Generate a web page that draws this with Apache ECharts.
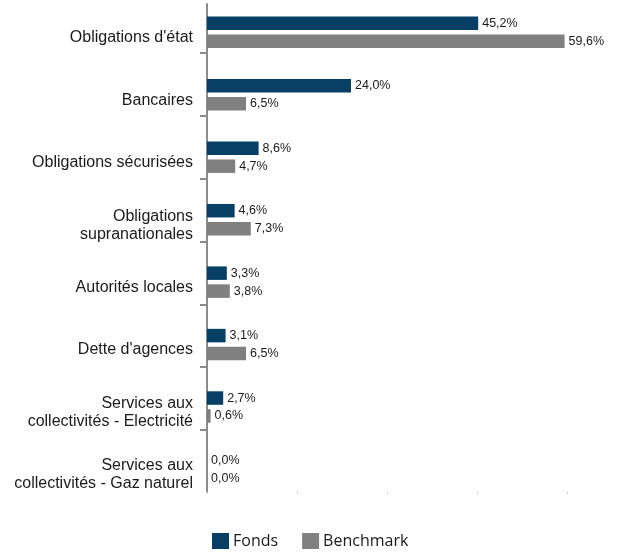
<!DOCTYPE html>
<html>
<head>
<meta charset="utf-8">
<script src="https://cdn.jsdelivr.net/npm/echarts@6/dist/echarts.min.js"></script>
<style>html,body{margin:0;padding:0;background:#fff}#c{width:620px;height:553px}</style>
</head>
<body>
<div id="c"></div>
<script>
const categories = [
  "Obligations d'état",
  "Bancaires",
  "Obligations sécurisées",
  "Obligations\nsupranationales",
  "Autorités locales",
  "Dette d'agences",
  "Services aux\ncollectivités - Electricité",
  "Services aux\ncollectivités - Gaz naturel"
];
const fonds = [45.2, 24.0, 8.6, 4.6, 3.3, 3.1, 2.7, 0.0];
const benchmark = [59.6, 6.5, 4.7, 7.3, 3.8, 6.5, 0.6, 0.0];
const seriesNames = ["Fonds", "Benchmark"];
const xMax = 60;
const xInterval = 15;

const FONT = "'Liberation Sans', Arial, sans-serif";
const chart = echarts.init(document.getElementById('c'), null, {renderer: 'canvas'});
const fmt = p => p.value.toFixed(1).replace('.', ',') + '%';
const hiddenX = (gi) => ({
  type: 'value', gridIndex: gi, min: 0, max: xMax, interval: xInterval,
  axisLine: {show: false}, axisTick: {show: false}, axisLabel: {show: false}, splitLine: {show: false}
});
const tickCats = categories.map((c, i) => 't' + i).concat(['end']);
const catLabelFmt = v => v.split('\n').map(l => '{f|' + l + '}').join('\n');
const labelTok = {fontSize: 16, lineHeight: 18, color: '#1a1a1a', fontFamily: FONT, align: 'right'};

chart.setOption({
  animation: false,
  textStyle: {fontFamily: FONT},
  grid: [
    {left: 207, width: 360, top: 1.1, height: 499.6, outerBoundsMode: 'none', containLabel: false},
    {left: 207, width: 360, top: 4, height: 487.7, outerBoundsMode: 'none', containLabel: false},
    {left: 207, width: 360, top: -10.2, height: 566.1, outerBoundsMode: 'none', containLabel: false}
  ],
  legend: {
    left: 212, top: 533, padding: 0,
    itemWidth: 17, itemHeight: 16, itemGap: 24,
    icon: 'rect',
    textStyle: {fontFamily: "'Open Sans'", fontSize: 16, color: '#1a1a1a', padding: [0, 0, 0, -1]},
    data: seriesNames
  },
  xAxis: [
    hiddenX(0),
    {
      type: 'value', gridIndex: 1, min: 0, max: xMax, interval: xInterval,
      axisLine: {show: false},
      axisTick: {show: true, length: 2, lineStyle: {color: '#c4c4c4', width: 1}},
      axisLabel: {show: false}, splitLine: {show: false}
    },
    hiddenX(2)
  ],
  yAxis: [
    {
      type: 'category', gridIndex: 0, inverse: true, data: categories,
      axisLine: {show: false}, axisTick: {show: false},
      axisLabel: {
        show: true, margin: 14, fontSize: 16, lineHeight: 18, color: '#1a1a1a',
        align: 'right', fontFamily: FONT,
        formatter: catLabelFmt,
        rich: {
          f: Object.assign({padding: [11, 0, 0, 0]}, labelTok)
        }
      }
    },
    {
      type: 'category', gridIndex: 1, inverse: true, data: categories,
      axisLine: {show: true, lineStyle: {color: '#8c8c8c', width: 2}},
      axisTick: {show: false}, axisLabel: {show: false}
    },
    {
      type: 'category', gridIndex: 2, inverse: true, data: tickCats,
      axisLine: {show: false},
      axisTick: {show: true, length: 7, interval: (i) => i !== 0 && i !== 8, lineStyle: {color: '#8c8c8c', width: 2}},
      axisLabel: {show: false}
    }
  ],
  series: [
    {
      name: seriesNames[0], type: 'bar', xAxisIndex: 0, yAxisIndex: 0,
      data: fonds, barWidth: 13.5, barGap: '33%',
      itemStyle: {color: '#073F65'},
      label: {show: true, position: 'right', distance: 4, formatter: fmt, fontSize: 12.5, color: '#1a1a1a', fontFamily: FONT}
    },
    {
      name: seriesNames[1], type: 'bar', xAxisIndex: 0, yAxisIndex: 0,
      data: benchmark, barWidth: 13.5, barGap: '33%',
      itemStyle: {color: '#808080'},
      label: {show: true, position: 'right', distance: 4, formatter: fmt, fontSize: 12.5, color: '#1a1a1a', fontFamily: FONT}
    }
  ]
});
</script>
</body>
</html>
